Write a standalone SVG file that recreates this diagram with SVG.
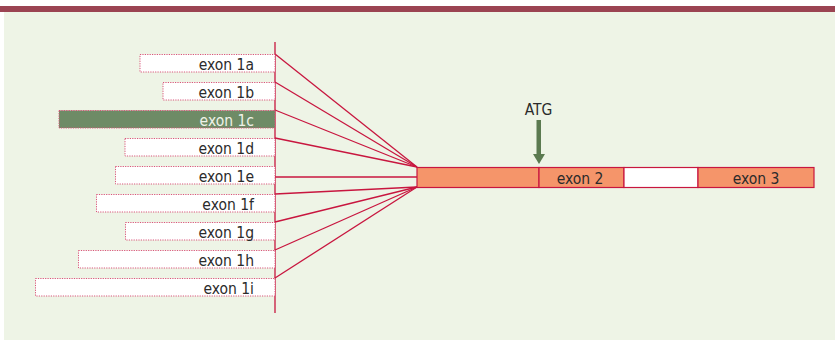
<svg xmlns="http://www.w3.org/2000/svg" width="835" height="340" viewBox="0 0 835 340">
<style>
.box{fill:#ffffff;stroke:#d9557a;stroke-width:1;stroke-dasharray:1.2,1.2}
.sel{fill:#6e8b66}
.lbl{font-family:"DejaVu Sans Condensed","DejaVu Sans",sans-serif;font-size:15.5px;fill:#2b2b2b;text-anchor:end}
.lblw{fill:#eef2e8}
.ctr{font-family:"DejaVu Sans Condensed","DejaVu Sans",sans-serif;font-size:15.5px;fill:#2b2b2b;text-anchor:middle}
.ln{stroke:#c8163f;stroke-width:1.3;fill:none}
.seg{fill:#f5956a;stroke:#c8163f;stroke-width:1.2}
</style>
<rect x="0" y="0" width="835" height="340" fill="#ffffff"/>
<rect x="4" y="12" width="831" height="328" fill="#eef4e6"/>
<rect x="0" y="6" width="835" height="6" fill="#9b4452"/>

<g id="connectors">
<line class="ln" x1="275" y1="42" x2="275" y2="313"/>
<line class="ln" x1="275" y1="54" x2="417" y2="167"/>
<line class="ln" x1="275" y1="82" x2="417" y2="167"/>
<line class="ln" x1="275" y1="110" x2="417" y2="167"/>
<line class="ln" x1="275" y1="138" x2="417" y2="167"/>
<line class="ln" x1="275" y1="177" x2="417" y2="177"/>
<line class="ln" x1="275" y1="194" x2="417" y2="187"/>
<line class="ln" x1="275" y1="222" x2="417" y2="187"/>
<line class="ln" x1="275" y1="250" x2="417" y2="187"/>
<line class="ln" x1="275" y1="278" x2="417" y2="187"/>
</g>

<g id="exon1a"><rect class="box" x="140" y="54.5" width="135" height="17.5"/><text class="lbl" x="254" y="70">exon 1a</text></g>
<g id="exon1b"><rect class="box" x="163" y="82.5" width="112" height="17.5"/><text class="lbl" x="254" y="98">exon 1b</text></g>
<g id="exon1c"><rect class="box sel" x="59" y="110.5" width="216" height="17.5"/><text class="lbl lblw" x="254" y="126">exon 1c</text></g>
<g id="exon1d"><rect class="box" x="125" y="138.5" width="150" height="17.5"/><text class="lbl" x="254" y="154">exon 1d</text></g>
<g id="exon1e"><rect class="box" x="115.5" y="166.5" width="159.5" height="17.5"/><text class="lbl" x="254" y="182">exon 1e</text></g>
<g id="exon1f"><rect class="box" x="96.5" y="194.5" width="178.5" height="17.5"/><text class="lbl" x="254" y="210">exon 1f</text></g>
<g id="exon1g"><rect class="box" x="125.5" y="222.5" width="149.5" height="17.5"/><text class="lbl" x="254" y="238">exon 1g</text></g>
<g id="exon1h"><rect class="box" x="78.5" y="250.5" width="196.5" height="17.5"/><text class="lbl" x="254" y="266">exon 1h</text></g>
<g id="exon1i"><rect class="box" x="35.5" y="278.5" width="239.5" height="17.5"/><text class="lbl" x="254" y="294">exon 1i</text></g>

<g id="gene">
<rect class="seg" x="417" y="167.5" width="122" height="20"/>
<rect class="seg" x="539" y="167.5" width="85" height="20"/>
<rect x="624" y="167.5" width="74" height="20" fill="#ffffff" stroke="#c8163f" stroke-width="1.2"/>
<rect class="seg" x="698" y="167.5" width="116" height="20"/>
<text class="ctr" x="580" y="184">exon 2</text>
<text class="ctr" x="756" y="184">exon 3</text>
</g>

<g id="atg">
<text class="ctr" x="538.5" y="115">ATG</text>
<rect x="536.5" y="120" width="4.5" height="36" fill="#5b7a50"/>
<polygon points="533,154 545,154 539,164" fill="#5b7a50"/>
</g>
</svg>
